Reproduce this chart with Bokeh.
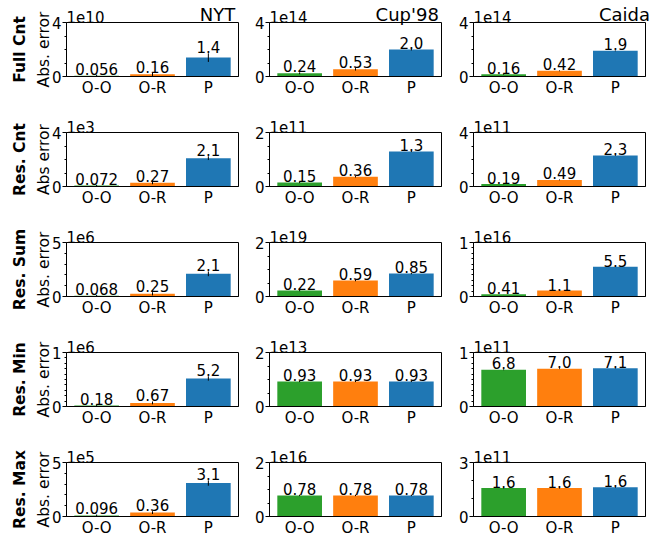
import math
from bokeh.plotting import figure
from bokeh.layouts import gridplot
from bokeh.models import Range1d, FixedTicker, LinearAxis
from bokeh.core.properties import value
from bokeh.embed import file_html
from bokeh.resources import INLINE

datasets = ["NYT", "Cup'98", "Caida"]
metrics = ["Full Cnt", "Res. Cnt", "Res. Sum", "Res. Min", "Res. Max"]
ylabels = ["Abs. error", "Abs error", "Abs. error", "Abs. error", "Abs. error"]
methods = ["O-O", "O-R", "P"]
colors = ["#2ca02c", "#ff7f0e", "#1f77b4"]

# ---- NYT ----
nyt_values = [[5.6e8, 1.6e9, 1.4e10], [72, 270, 2100], [6.8e4, 2.5e5, 2.1e6],
              [1.8e4, 6.7e4, 5.2e5], [9.6e3, 3.6e4, 3.1e5]]
nyt_errors = [[8e8, 1.2e9, 3.2e9], [50, 100, 140], [7e4, 1.5e5, 2.2e5],
              [1.8e4, 2.6e4, 4e4], [9e3, 1.3e4, 2.5e4]]
nyt_labels = [["0.056", "0.16", "1.4"], ["0.072", "0.27", "2.1"], ["0.068", "0.25", "2.1"],
              ["0.18", "0.67", "5.2"], ["0.096", "0.36", "3.1"]]
nyt_exp = [10, 3, 6, 6, 5]
nyt_ymax = [4, 4, 5, 1, 5]

# ---- Cup'98 ----
cup_values = [[2.4e13, 5.3e13, 2.0e14], [1.5e10, 3.6e10, 1.3e11], [2.2e18, 5.9e18, 8.5e18],
              [9.3e12, 9.3e12, 9.3e12], [7.8e15, 7.8e15, 7.8e15]]
cup_errors = [[7e12, 9e12, 7e12], [2.5e9, 2.5e9, 2.5e9], [2.5e17, 2.5e17, 2.5e17],
              [2.5e11, 2.5e11, 2.5e11], [2.5e14, 2.5e14, 2.5e14]]
cup_labels = [["0.24", "0.53", "2.0"], ["0.15", "0.36", "1.3"], ["0.22", "0.59", "0.85"],
              ["0.93", "0.93", "0.93"], ["0.78", "0.78", "0.78"]]
cup_exp = [14, 11, 19, 13, 16]
cup_ymax = [4, 2, 2, 2, 2]

# ---- Caida ----
caida_values = [[1.6e13, 4.2e13, 1.9e14], [1.9e10, 4.9e10, 2.3e11], [4.1e14, 1.1e15, 5.5e15],
                [6.8e10, 7.0e10, 7.1e10], [1.58e11, 1.58e11, 1.62e11]]
caida_errors = [[3e12, 3e12, 3e12], [3e9, 3e9, 3e9], [8e12, 8e12, 8e12],
                [8e8, 8e8, 8e8], [2.5e9, 2.5e9, 2.5e9]]
caida_labels = [["0.16", "0.42", "1.9"], ["0.19", "0.49", "2.3"], ["0.41", "1.1", "5.5"],
                ["6.8", "7.0", "7.1"], ["1.6", "1.6", "1.6"]]
caida_exp = [14, 11, 16, 11, 11]
caida_ymax = [4, 4, 1, 1, 3]

data = [
    (nyt_values, nyt_errors, nyt_labels, nyt_exp, nyt_ymax),
    (cup_values, cup_errors, cup_labels, cup_exp, cup_ymax),
    (caida_values, caida_errors, caida_labels, caida_exp, caida_ymax),
]

minor_by_ymax = {
    4: [1, 2, 3],
    5: [1, 2, 3, 4],
    2: [0.5, 1, 1.5],
    3: [1, 2],
    1: [0.1, 0.2, 0.3, 0.4, 0.5, 0.6, 0.7, 0.8, 0.9],
}

FONT = "DejaVu Sans"
XMIN, XMAX = -0.54, 2.54
FRAME_W, FRAME_H = 172, 57
col_left = [66, 27, 28]
col_right = [4, 4, 6]
row_top = [22, 33, 33, 33, 33]
row_bottom = 20
UNIT_PX = (XMAX - XMIN) / FRAME_W  # data units per horizontal pixel


def text_axis(label, x, size, standoff):
    """Tick-free axis above the frame used only to print one text."""
    return LinearAxis(ticker=FixedTicker(ticks=[x]), major_label_overrides={x: label},
                      axis_line_color=None, major_tick_line_color=None,
                      minor_tick_line_color=None, major_tick_out=0, major_tick_in=0,
                      minor_tick_out=0, minor_tick_in=0, major_label_standoff=standoff,
                      major_label_text_font=FONT, major_label_text_font_size=size,
                      major_label_text_color="black")


rows = []
for r in range(5):
    row = []
    for c in range(3):
        vals, errs, labs, exps, ymaxs = data[c]
        scale = 10.0 ** exps[r]
        ymax = ymaxs[r]
        tops = [v / scale for v in vals[r]]
        es = [e / scale for e in errs[r]]
        xs = list(range(len(methods)))
        offset_text = "1e%d" % exps[r]

        kw = dict(title=None) if r == 0 else {}
        p = figure(
            width=col_left[c] + FRAME_W + col_right[c],
            height=row_top[r] + FRAME_H + row_bottom,
            x_range=Range1d(XMIN, XMAX), y_range=Range1d(0, ymax),
            output_backend="svg", toolbar_location=None,
            min_border_left=col_left[c], min_border_right=col_right[c],
            min_border_top=row_top[r], min_border_bottom=row_bottom, **kw
        )
        p.background_fill_color = "white"
        p.border_fill_color = "white"
        p.outline_line_color = "black"
        p.outline_line_width = 1
        p.xgrid.visible = False
        p.ygrid.visible = False

        p.vbar(x=xs, top=tops, bottom=0, width=0.8, fill_color=colors, line_color=None)
        p.segment(x0=xs, y0=[t - e for t, e in zip(tops, es)], x1=xs,
                  y1=[t + e for t, e in zip(tops, es)], line_color="black", line_width=1)
        p.text(x=xs, y=[t + e for t, e in zip(tops, es)], text=labs[r],
               text_align="center", text_baseline="bottom",
               text_font=value(FONT), text_font_size="15px", text_color="black")

        # x axis (the default one, below)
        xax = p.below[0]
        xax.ticker = FixedTicker(ticks=xs)
        xax.major_label_overrides = {i: m for i, m in enumerate(methods)}
        xax.major_tick_out = 0
        xax.major_tick_in = 0
        xax.minor_tick_out = 0
        xax.minor_tick_in = 0
        xax.major_label_standoff = 2
        xax.major_label_text_font = FONT
        xax.major_label_text_font_size = "15px"
        xax.major_label_text_color = "black"
        xax.axis_line_color = "black"

        # y axis (the default one, left)
        yax = p.left[0]
        yax.ticker = FixedTicker(ticks=[0, ymax], minor_ticks=minor_by_ymax[ymax])
        yax.major_tick_out = 4
        yax.major_tick_in = 0
        yax.minor_tick_out = 2
        yax.minor_tick_in = 0
        yax.major_tick_line_color = "black"
        yax.minor_tick_line_color = "black"
        yax.major_label_standoff = 1
        yax.major_label_text_font = FONT
        yax.major_label_text_font_size = "15px"
        yax.major_label_text_color = "black"
        yax.axis_line_color = "black"

        if r == 0:
            # offset text and dataset name on the same line above the frame
            xa = XMIN + 19 * UNIT_PX
            p.add_layout(text_axis(offset_text, xa, "15px", 0), "above")
            xb = XMAX - 21 * UNIT_PX
            p.add_layout(text_axis(datasets[c], xb, "18px", -17), "above")
        else:
            p.title.text = offset_text
            p.title.align = "left"
            p.title.standoff = 0
            p.title.offset = 0
            p.title.text_font = FONT
            p.title.text_font_size = "15px"
            p.title.text_font_style = "normal"
            p.title.text_color = "black"

        if c == 0:
            yax.axis_label = ylabels[r]
            yax.axis_label_standoff = -4
            yax.axis_label_text_font = FONT
            yax.axis_label_text_font_size = "15.5px"
            yax.axis_label_text_font_style = "normal"
            yax.axis_label_text_color = "black"
            outer = LinearAxis(ticker=FixedTicker(ticks=[]), axis_label=metrics[r],
                               axis_line_color=None, major_tick_line_color=None,
                               minor_tick_line_color=None, major_tick_out=0,
                               minor_tick_out=0, major_label_standoff=0,
                               axis_label_standoff=3, axis_label_text_font=FONT,
                               axis_label_text_font_size="15.5px",
                               axis_label_text_font_style="bold",
                               axis_label_text_color="black")
            p.add_layout(outer, "left")
        row.append(p)
    rows.append(row)

grid = gridplot(rows, toolbar_location=None)
open("out.html", "w").write(file_html(grid, INLINE))
